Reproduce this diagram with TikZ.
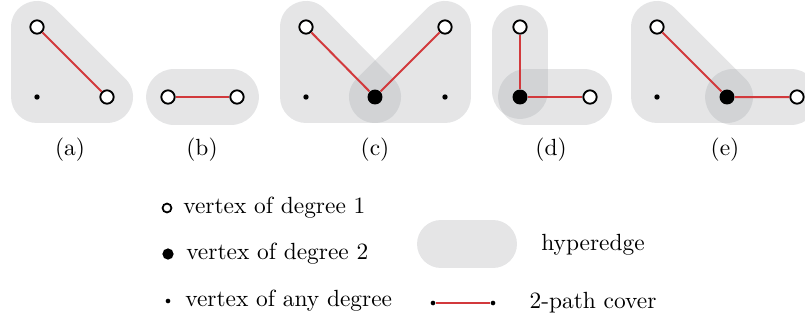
\documentclass[tikz,border=0pt]{standalone}
\usetikzlibrary{positioning,backgrounds}
\definecolor{coverRed}{HTML}{D2393C}
\definecolor{hyperGray}{RGB}{160,163,167}

\begin{document}
\begin{tikzpicture}[x=0.4274pt,y=-0.4274pt,
  deg1/.style={circle,draw,line width=0.8pt,fill=white,inner sep=0pt,minimum size=5.7pt},
  deg2/.style={circle,fill=black,inner sep=0pt,minimum size=6.4pt},
  anydeg/.style={circle,fill=black,inner sep=0pt,minimum size=2.3pt},
  hyper/.style={draw=hyperGray,draw opacity=0.28,line width=22.2pt,line join=round,line cap=round},
  hyperpair/.style={hyper,line width=23.9pt,shorten <=2.6pt,shorten >=2.6pt},
  cover/.style={draw=coverRed,line width=0.85pt},
  legtext/.style={inner sep=0pt,anchor=west}]
  \useasboundingbox (0,0) rectangle (805,320);

  % (a)
  \node[deg1] (a1) at (37,27) {};
  \node[anydeg] (a2) at (37,97) {};
  \node[deg1] (a3) at (107,97) {};
  \node (la) at (70,150) {(a)};
  % (b)
  \node[deg1] (b1) at (168,97) {};
  \node[deg1] (b2) at (237,97) {};
  \node (lb) at (202,150) {(b)};
  % (c)
  \node[deg1] (c1) at (306,27) {};
  \node[anydeg] (c2) at (306,97) {};
  \node[deg2] (c3) at (375,97) {};
  \node[anydeg] (c4) at (445,97) {};
  \node[deg1] (c5) at (445,27) {};
  \node (lc) at (375,150) {(c)};
  % (d)
  \node[deg1] (d1) at (520,27) {};
  \node[deg2] (d2) at (520,97) {};
  \node[deg1] (d3) at (590,97) {};
  \node (ld) at (551,150) {(d)};
  % (e)
  \node[deg1] (e1) at (657,27) {};
  \node[anydeg] (e2) at (657,97) {};
  \node[deg2] (e3) at (727,97) {};
  \node[deg1] (e4) at (797,97) {};
  \node (le) at (725,150) {(e)};

  \begin{scope}[on background layer]
    \draw[hyper] (a1.center) -- (a2.center) -- (a3.center) -- cycle;
    \draw[hyperpair] (b1.center) -- (b2.center);
    \draw[hyper] (c1.center) -- (c2.center) -- (c3.center) -- cycle;
    \draw[hyper] (c3.center) -- (c4.center) -- (c5.center) -- cycle;
    \draw[hyperpair] (d1.center) -- (d2.center);
    \draw[hyperpair] (d2.center) -- (d3.center);
    \draw[hyper] (e1.center) -- (e2.center) -- (e3.center) -- cycle;
    \draw[hyperpair] (e3.center) -- (e4.center);
  \end{scope}

  \draw[cover] (a1) -- (a3);
  \draw[cover] (b1) -- (b2);
  \draw[cover] (c1) -- (c3) (c3) -- (c5);
  \draw[cover] (d1) -- (d2) (d2) -- (d3);
  \draw[cover] (e1) -- (e3) (e3) -- (e4);

  % legend
  \node[deg1,line width=0.75pt,minimum size=3.8pt] (k1) at (167,208) {};
  \node[legtext,right=4.5pt of k1] (t1) {vertex of degree 1};
  \node[deg2,minimum size=4.8pt] (k2) at (168,254) {};
  \node[legtext,right=5pt of k2] (t2) {vertex of degree 2};
  \node[anydeg,minimum size=2pt] (k3) at (168,301) {};
  \node[legtext,right=6pt of k3] (t3) {vertex of any degree};

  \coordinate (h1) at (441,244);
  \coordinate (h2) at (493,244);
  \draw[hyper,line width=20.5pt] (h1) -- (h2);
  \node (t4) at (593,245) {hyperedge};

  \node[anydeg,minimum size=2pt] (p1) at (433,303) {};
  \node[anydeg,minimum size=2pt] (p2) at (493,303) {};
  \draw[cover] (p1) -- (p2);
  \node (t5) at (593,303) {2-path cover};
\end{tikzpicture}
\end{document}
